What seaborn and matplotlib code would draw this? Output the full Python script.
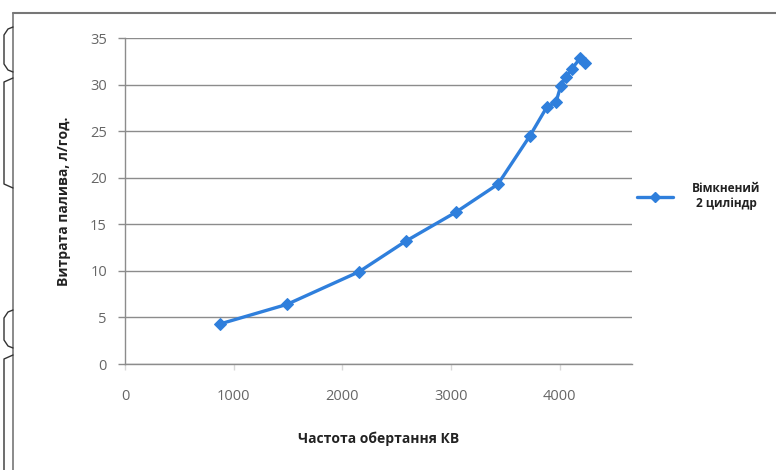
import matplotlib
matplotlib.use("Agg")
import matplotlib.pyplot as plt
from matplotlib.lines import Line2D
import seaborn as sns
import pandas as pd

# Engine speed (rpm) and fuel consumption (l/h)
rpm = [874, 1490, 2153, 2585, 3045, 3431, 3726, 3882, 3965, 4011, 4057, 4112, 4186, 4232]
fuel = [4.3, 6.4, 9.9, 13.2, 16.3, 19.3, 24.5, 27.6, 28.1, 29.9, 30.8, 31.7, 32.8, 32.3]
series_name = "Вімкнений\n2 циліндр"
x_ticks = [0, 1000, 2000, 3000, 4000]
y_ticks = [0, 5, 10, 15, 20, 25, 30, 35]

df = pd.DataFrame({"rpm": rpm, "fuel": fuel})

sns.set_theme(style="white")
plt.rcParams["font.family"] = ["Open Sans", "DejaVu Sans"]

fig = plt.figure(figsize=(7.76, 4.70), dpi=100)
ax = fig.add_axes([125 / 776, 1 - 364 / 470, (632 - 125) / 776, (364 - 38) / 470])

blue = "#2f7fdc"
sns.lineplot(data=df, x="rpm", y="fuel", ax=ax, sort=False, color=blue,
             linewidth=2.4, marker="D", markersize=6, markeredgecolor=blue,
             markerfacecolor=blue, zorder=3)

ax.set_xlim(0, 4665)
ax.set_ylim(0, 35)
ax.set_xticks(x_ticks)
ax.set_yticks(y_ticks)
ax.yaxis.grid(True, color="#8c8c8c", linewidth=1.0)
ax.xaxis.grid(False)
for side in ("top", "right"):
    ax.spines[side].set_visible(False)
for side in ("left", "bottom"):
    ax.spines[side].set_color("#8c8c8c")
    ax.spines[side].set_linewidth(1.0)
ax.tick_params(axis="y", length=5, width=1, color="#8c8c8c", pad=8,
               labelsize=10.5, labelcolor="#666666", left=True)
ax.tick_params(axis="x", length=4, width=1, color="#d8d8d8", pad=14,
               labelsize=10.5, labelcolor="#666666", bottom=True)

ax.set_xlabel("Частота обертання КВ", fontsize=10, fontweight="bold",
              color="#222222", labelpad=20)
ax.set_ylabel("Витрата палива, л/год.", fontsize=10, fontweight="bold",
              color="#222222", labelpad=14)

# Legend entry placed to the right of the plot area
leg_handle = Line2D([0], [0], color=blue, linewidth=2.4, marker="D",
                    markersize=5.5, markerfacecolor=blue, markeredgecolor=blue)
fig.legend([leg_handle], [series_name], loc="center left",
           bbox_to_anchor=(627 / 776, 1 - 196 / 470), frameon=False,
           handlelength=3.0, handletextpad=1.6, borderpad=0.35,
           prop={"size": 8.6, "weight": "bold"}, labelcolor="#222222")
for t in fig.legends[0].get_texts():
    t.set_multialignment("center")

# Outer frame of the chart area
fig.add_artist(Line2D([13 / 776, 1.0], [1 - 13 / 470, 1 - 13 / 470],
                      color="#777777", linewidth=1.5, transform=fig.transFigure))
fig.add_artist(Line2D([13 / 776, 13 / 776], [0.0, 1 - 13 / 470],
                      color="#777777", linewidth=1.2, transform=fig.transFigure))

# Margin brackets along the left edge
def px(x, y):
    return x / 776, 1 - y / 470

def bracket(y0, y1, curved):
    if curved:
        xs = [13, 8, 4, 4, 8, 13]
        ys = [y0, y0 + 2, y0 + 8, y1 - 8, y1 - 2, y1]
    else:
        xs = [13, 4, 4, 13]
        ys = [y0, y0 + 4, y1 - 4, y1]
    pts = [px(a, b) for a, b in zip(xs, ys)]
    fig.add_artist(Line2D([p[0] for p in pts], [p[1] for p in pts],
                          color="#333333", linewidth=1.0,
                          transform=fig.transFigure))

bracket(27, 72, True)
bracket(78, 188, False)
bracket(310, 348, True)
bracket(355, 475, False)

fig.savefig("out.png", dpi=100, facecolor="white")
